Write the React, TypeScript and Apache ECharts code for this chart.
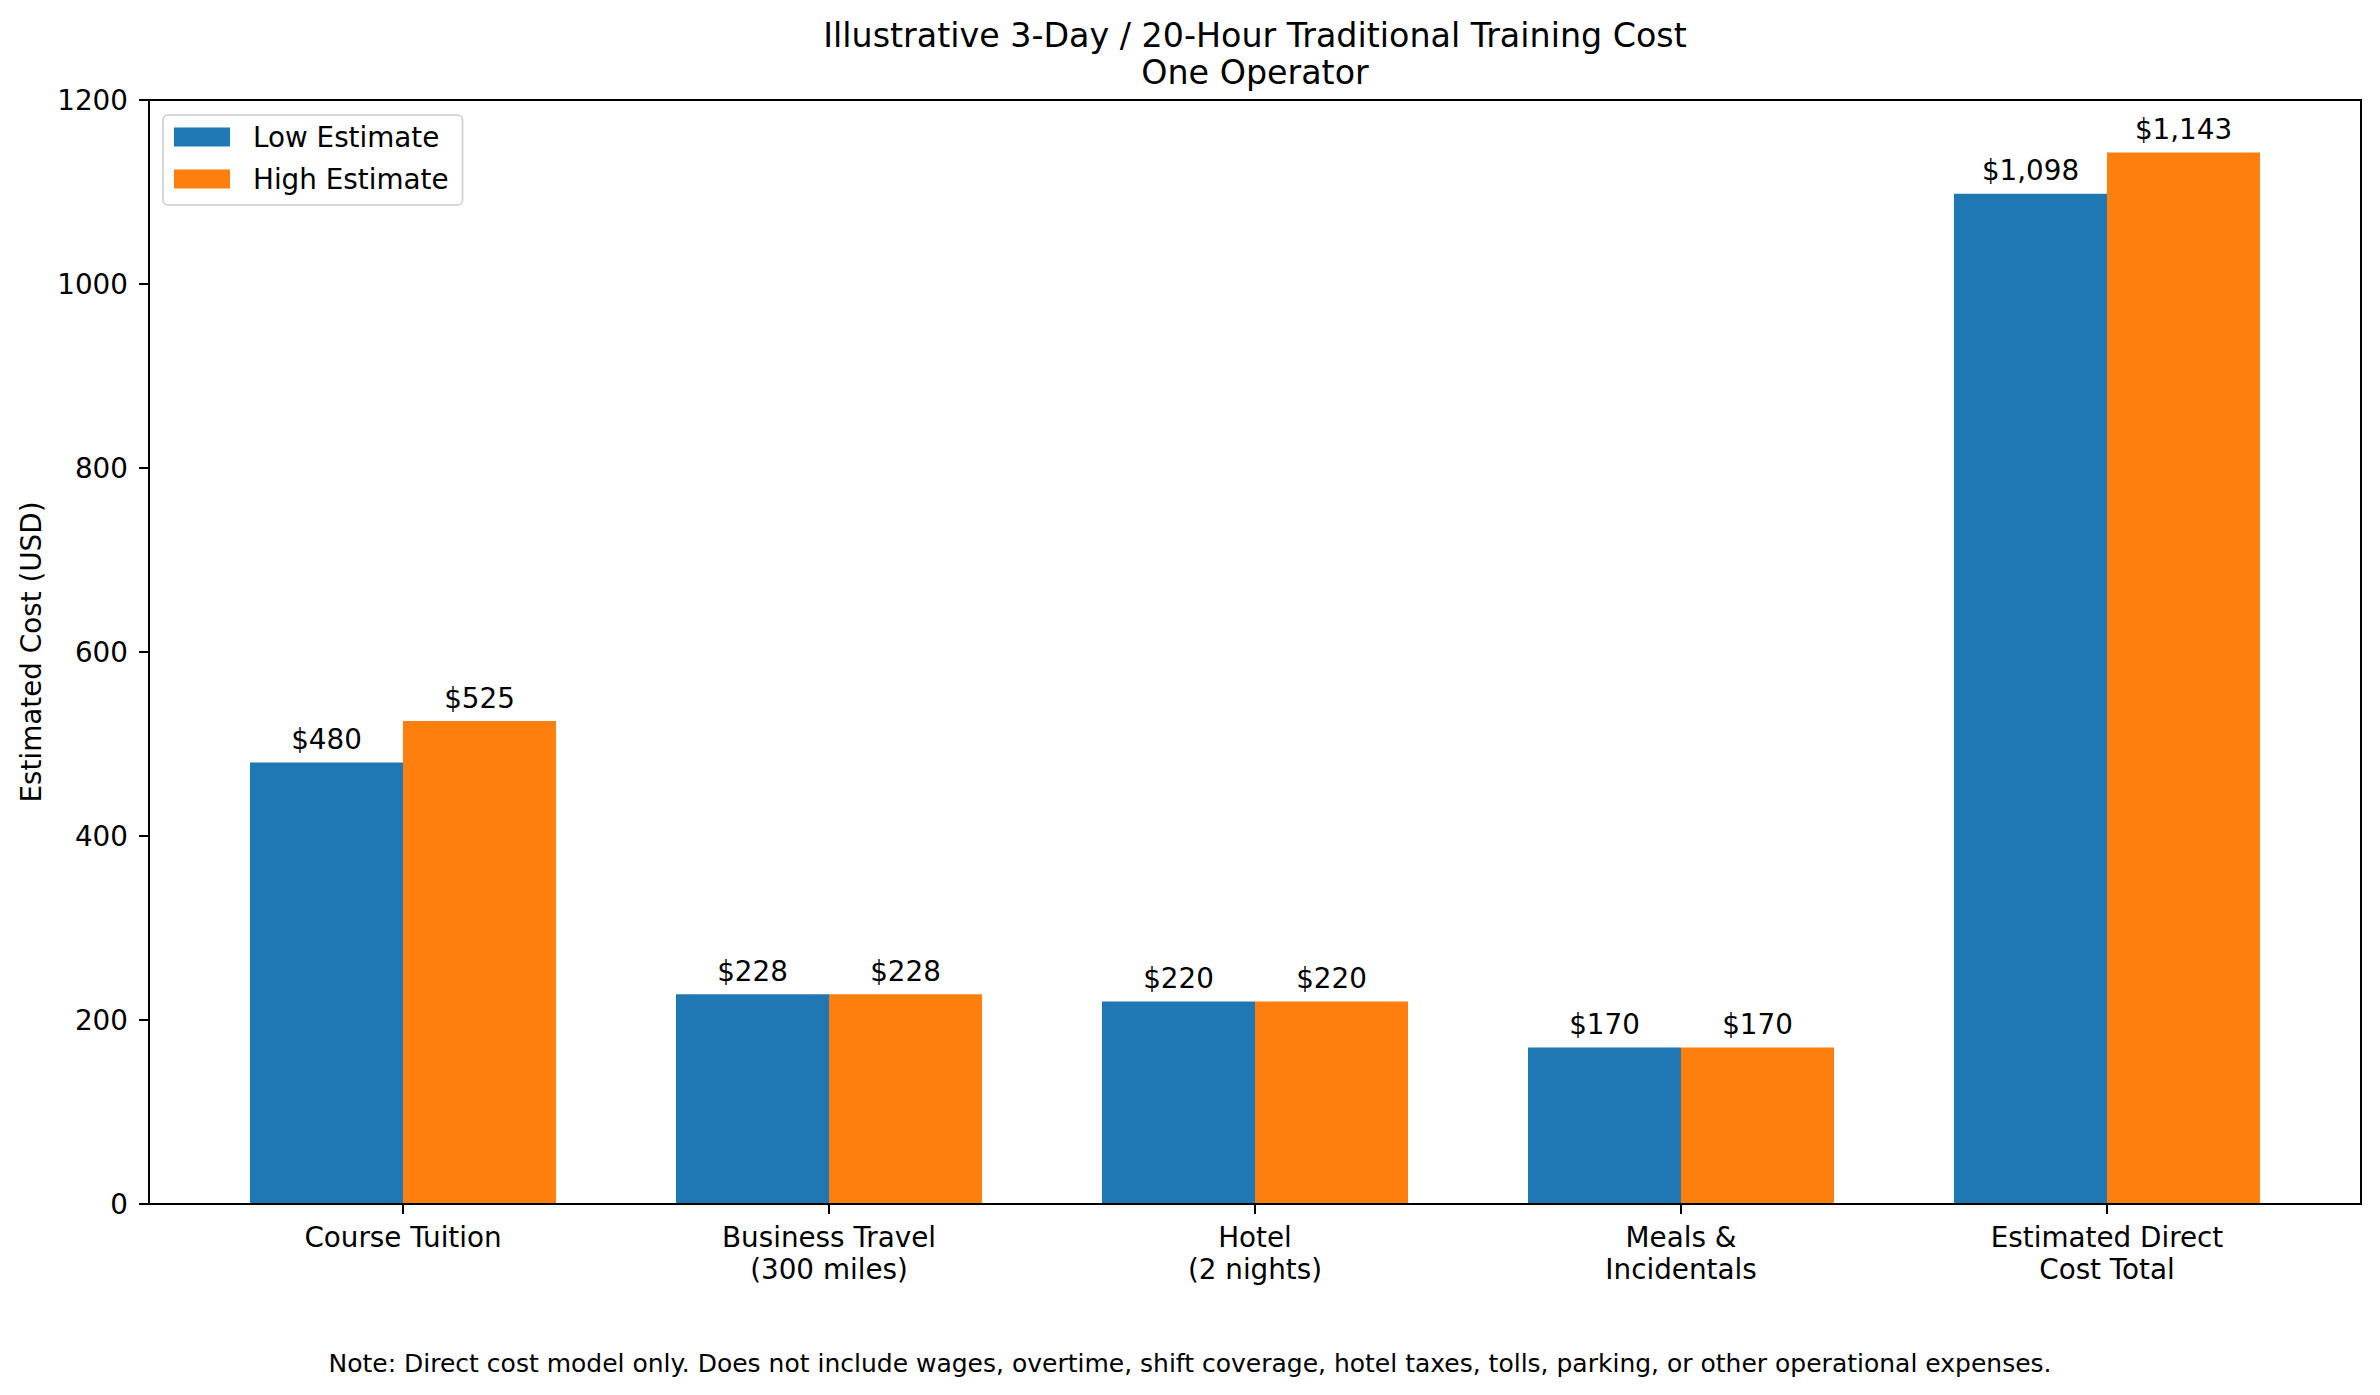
import React, { useEffect, useRef } from "react";
import * as echarts from "echarts";

const categories = [
  "Course Tuition",
  "Business Travel\n(300 miles)",
  "Hotel\n(2 nights)",
  "Meals &\nIncidentals",
  "Estimated Direct\nCost Total",
];
const lowEstimate = [480, 228, 220, 170, 1098];
const highEstimate = [525, 228, 220, 170, 1143];
const seriesNames = ["Low Estimate", "High Estimate"];
const yTicks = { min: 0, max: 1200, interval: 200 };
const titleLines = ["Illustrative 3-Day / 20-Hour Traditional Training Cost", "One Operator"];
const yAxisTitle = "Estimated Cost (USD)";
const noteText =
  "Note: Direct cost model only. Does not include wages, overtime, shift coverage, hotel taxes, tolls, parking, or other operational expenses.";

const FONT = "DejaVu Sans";
const W = 2380;
const H = 1395;
const FS = 27.8;

const fmt = (v: number) => "$" + v.toLocaleString("en-US");

export default function App() {
  const ref = useRef<HTMLDivElement>(null);
  useEffect(() => {
    document.body.style.margin = "0";
    if (!ref.current) return;
    const chart = echarts.init(ref.current, null, { renderer: "svg" });
    const barLabel = {
      show: true,
      position: "top" as const,
      distance: 9,
      fontSize: FS,
      fontFamily: FONT,
      color: "#000",
      formatter: (p: any) => fmt(p.value),
    };
    chart.setOption({
      animation: false,
      backgroundColor: "#fff",
      textStyle: { fontFamily: FONT },
      grid: [
        { left: 190, right: 60, top: 100, bottom: 191 },
        {
          left: 149,
          right: 19,
          top: 100,
          bottom: 191,
          show: true,
          borderColor: "#000",
          borderWidth: 2,
          backgroundColor: "transparent",
          z: 5,
        },
      ],
      xAxis: [
        {
          type: "category",
          gridIndex: 0,
          data: categories,
          axisLine: { show: false },
          axisTick: {
            show: true,
            alignWithLabel: true,
            length: 10,
            lineStyle: { color: "#000", width: 2 },
          },
          axisLabel: {
            interval: 0,
            margin: 17,
            fontSize: FS,
            lineHeight: 32,
            color: "#000",
            fontFamily: FONT,
          },
          splitLine: { show: false },
        },
        { type: "value", gridIndex: 1, min: 0, max: 1, show: false },
      ],
      yAxis: [
        {
          type: "value",
          gridIndex: 0,
          min: yTicks.min,
          max: yTicks.max,
          interval: yTicks.interval,
          show: false,
          splitLine: { show: false },
        },
        {
          type: "value",
          gridIndex: 1,
          min: yTicks.min,
          max: yTicks.max,
          interval: yTicks.interval,
          axisLine: { show: true, lineStyle: { color: "#000", width: 2 } },
          axisTick: { show: true, length: 10, lineStyle: { color: "#000", width: 2 } },
          axisLabel: {
            margin: 21,
            fontSize: FS,
            color: "#000",
            fontFamily: FONT,
            formatter: (v: number) => String(v),
          },
          splitLine: { show: false },
        },
      ],
      legend: {
        orient: "vertical",
        left: 163,
        top: 115,
        padding: [8, 14, 12, 11],
        itemGap: 14,
        itemWidth: 56,
        itemHeight: 19,
        icon: "rect",
        backgroundColor: "rgba(255,255,255,0.8)",
        borderColor: "#d5d5d5",
        borderWidth: 2,
        borderRadius: 5,
        data: seriesNames,
        textStyle: {
          fontSize: FS,
          color: "#000",
          fontFamily: FONT,
          padding: [0, 0, 0, 18],
        },
      },
      series: [
        {
          name: seriesNames[0],
          type: "bar",
          xAxisIndex: 0,
          yAxisIndex: 0,
          data: lowEstimate,
          barWidth: 153,
          barGap: "0%",
          itemStyle: { color: "#1f77b4" },
          label: barLabel,
        },
        {
          name: seriesNames[1],
          type: "bar",
          xAxisIndex: 0,
          yAxisIndex: 0,
          data: highEstimate,
          barWidth: 153,
          barGap: "0%",
          itemStyle: { color: "#ff7f0e" },
          label: barLabel,
        },
      ],
      graphic: [
        {
          type: "text",
          x: 1255,
          y: 35,
          style: {
            text: titleLines[0],
            fontSize: 33.3,
            fontFamily: FONT,
            fill: "#000",
            textAlign: "center",
            textVerticalAlign: "middle",
          },
        },
        {
          type: "text",
          x: 1255,
          y: 72,
          style: {
            text: titleLines[1],
            fontSize: 33.3,
            fontFamily: FONT,
            fill: "#000",
            textAlign: "center",
            textVerticalAlign: "middle",
          },
        },
        {
          type: "text",
          x: 31,
          y: 652,
          rotation: Math.PI / 2,
          style: {
            text: yAxisTitle,
            fontSize: FS,
            fontFamily: FONT,
            fill: "#000",
            textAlign: "center",
            textVerticalAlign: "middle",
          },
        },
        {
          type: "text",
          x: 1190,
          y: 1363,
          style: {
            text: noteText,
            fontSize: 25,
            fontFamily: FONT,
            fill: "#000",
            textAlign: "center",
            textVerticalAlign: "middle",
          },
        },
      ],
    });
    return () => chart.dispose();
  }, []);
  return (
    <div
      ref={ref}
      style={{ position: "absolute", left: 0, top: 0, width: W + "px", height: H + "px" }}
    />
  );
}
